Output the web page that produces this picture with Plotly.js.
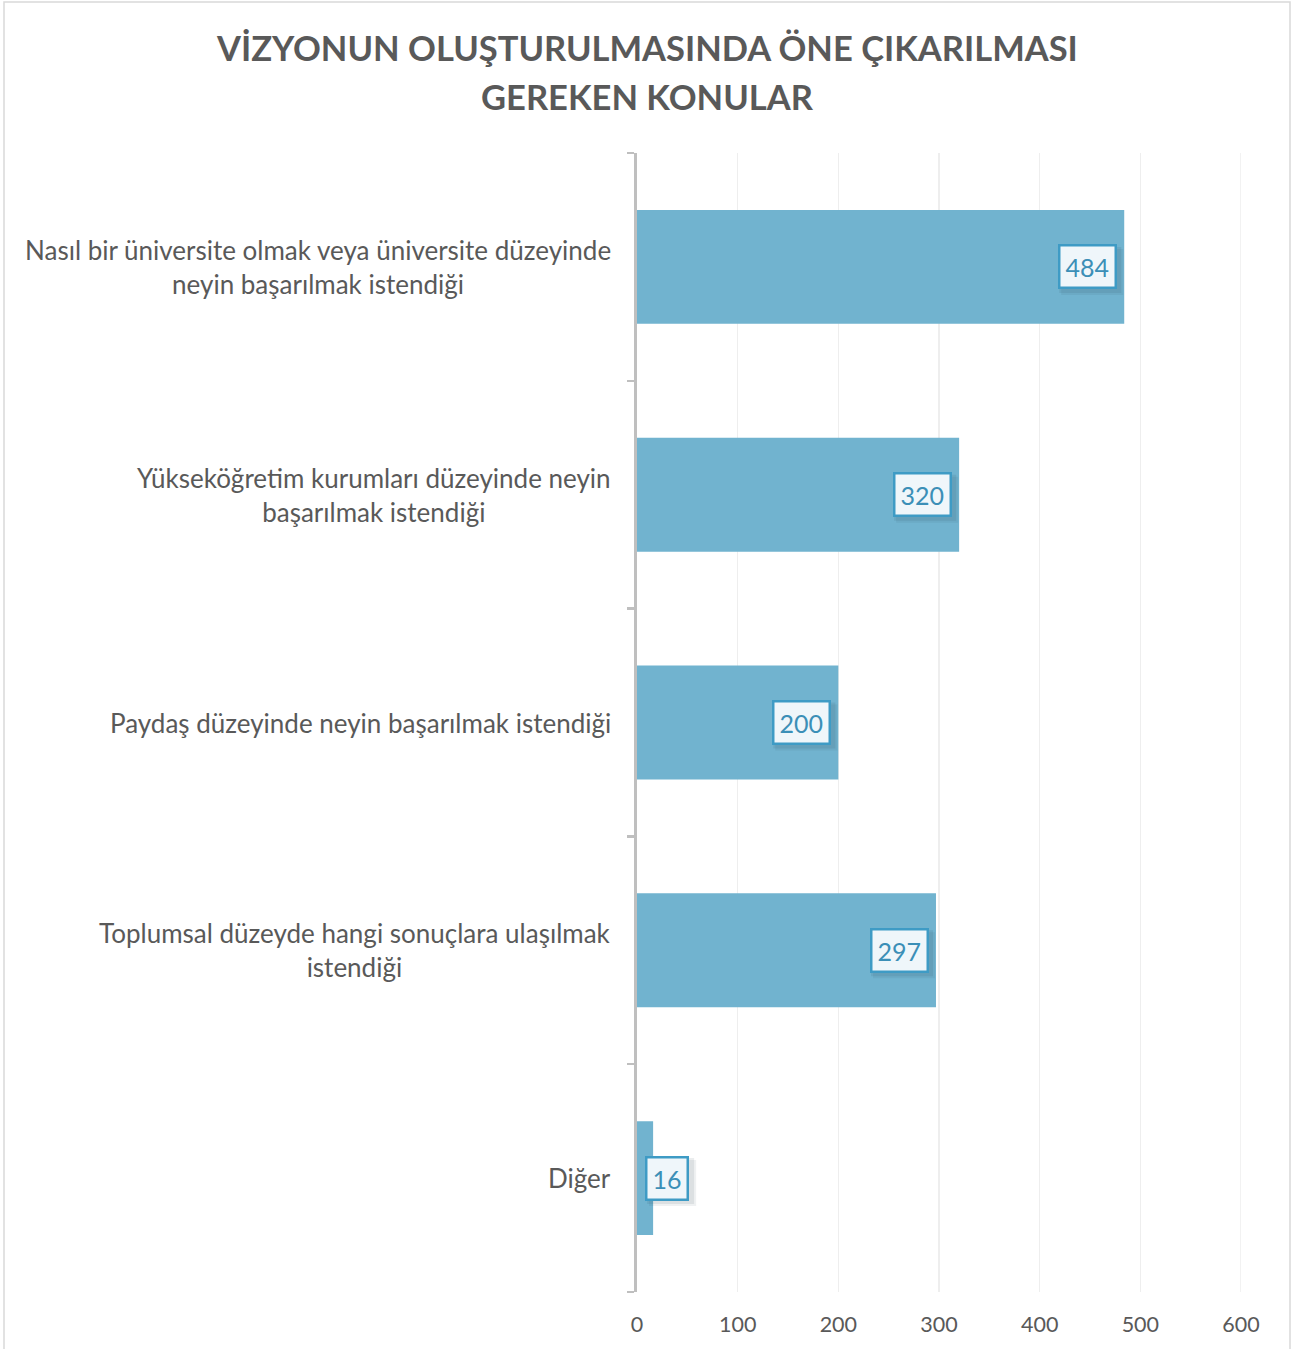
<!DOCTYPE html>
<html>
<head>
<meta charset="utf-8">
<script src="https://cdn.plot.ly/plotly-3.0.1.min.js"></script>
<style>html,body{margin:0;padding:0;background:#fff;}#chart{width:1307px;height:1349px;}</style>
</head>
<body>
<div id="chart"></div>
<script>
const categories = [
  "Nasıl bir üniversite olmak veya üniversite düzeyinde<br>neyin başarılmak istendiği",
  "Yükseköğretim kurumları düzeyinde neyin<br>başarılmak istendiği",
  "Paydaş düzeyinde neyin başarılmak istendiği",
  "Toplumsal düzeyde hangi sonuçlara ulaşılmak<br>istendiği",
  "Diğer"
];
const values = [484, 320, 200, 297, 16];
const xTicks = [0, 100, 200, 300, 400, 500, 600];
const titleLines = ["VİZYONUN OLUŞTURULMASINDA ÖNE ÇIKARILMASI", "GEREKEN KONULAR"];

const FONT = "Lato, 'Open Sans', sans-serif";
const barColor = "#71b3cf";

const annotations = [];
const shapes = [];

// title (two lines, Excel-like spacing)
const titleY = [48, 97];
titleLines.forEach((t, k) => {
  annotations.push({
    x: (647 - 637) / 604, y: (1292 - titleY[k]) / 1139, xref: 'paper', yref: 'paper',
    text: t, showarrow: false, xanchor: 'center', yanchor: 'middle', align: 'center',
    font: {family: FONT, size: 34.5, color: '#595959', weight: 'bold'}
  });
});

// category labels (centered multi-line)
categories.forEach((c, i) => {
  annotations.push({
    x: 0, y: i, xref: 'x', yref: 'y', text: c, showarrow: false,
    xanchor: 'right', yanchor: 'middle', align: 'center', xshift: -24,
    font: {family: FONT, size: 26, color: '#595959'}
  });
});

// gridline at the axis end (Plotly omits it at the range edge)
shapes.push({
  type: 'line', xref: 'x', yref: 'paper', x0: xTicks[xTicks.length - 1], x1: xTicks[xTicks.length - 1],
  y0: 0, y1: 1, line: {color: '#eeeeee', width: 1.5}, layer: 'below'
});

// data labels with shadow
values.forEach((v, i) => {
  const small = v < 60;
  const w = String(v).length === 3 ? 60 : 45;
  const xs = small ? -8 : -7;
  const left = small ? xs : xs - w;
  const right = left + w;
  [[5, 0.07], [3, 0.09]].forEach(([off, a]) => {
    shapes.push({
      type: 'rect', xref: 'x', yref: 'y', xsizemode: 'pixel', ysizemode: 'pixel',
      xanchor: v, yanchor: i,
      x0: left + off - 1, x1: right + off + 1, y0: -22 - off - 1, y1: 22 - off + 1,
      line: {width: 0}, fillcolor: 'rgba(30,50,70,' + a + ')', layer: 'above'
    });
  });
  annotations.push({
    x: v, y: i, xref: 'x', yref: 'y', text: String(v), showarrow: false,
    xanchor: small ? 'left' : 'right', yanchor: 'middle', xshift: xs,
    font: {family: FONT, size: 25, color: '#3b8fb7'},
    bgcolor: '#eff6fa', bordercolor: '#3e9bc5', borderwidth: 2.5, borderpad: 5
  });
});

shapes.push({
  type: 'rect', xref: 'paper', yref: 'paper',
  x0: (4 - 637) / 604, x1: (1290 - 637) / 604,
  y0: (1292 - 1365) / 1139, y1: (1292 - 2) / 1139,
  line: {color: '#d9d9d9', width: 1.5}, fillcolor: 'rgba(0,0,0,0)', layer: 'below'
});

const trace = {
  type: 'bar', orientation: 'h',
  x: values, y: categories.map((c, i) => i),
  marker: {color: barColor, line: {width: 0}},
  hoverinfo: 'skip'
};

const layout = {
  width: 1307, height: 1349,
  margin: {l: 637, r: 66, t: 153, b: 57},
  paper_bgcolor: '#ffffff', plot_bgcolor: '#ffffff',
  showlegend: false,
  bargap: 0.5,
  xaxis: {
    range: [0, 600], tickvals: xTicks, ticktext: xTicks.map(String),
    showgrid: true, gridcolor: '#eeeeee', gridwidth: 1.5,
    zeroline: false, showline: false, ticks: '',
    ticklabelstandoff: 17,
    tickfont: {family: FONT, size: 21.5, color: '#595959'},
    fixedrange: true
  },
  yaxis: {
    range: [4.5, -0.5], tickvals: [-0.5, 0.5, 1.5, 2.5, 3.5, 4.5],
    showticklabels: false, showgrid: false, zeroline: false,
    showline: true, linecolor: '#bfbfbf', linewidth: 3,
    ticks: 'outside', ticklen: 7, tickcolor: '#bfbfbf', tickwidth: 2.5,
    fixedrange: true
  },
  annotations: annotations,
  shapes: shapes
};

Plotly.newPlot('chart', [trace], layout, {displayModeBar: false, staticPlot: true});
</script>
</body>
</html>
